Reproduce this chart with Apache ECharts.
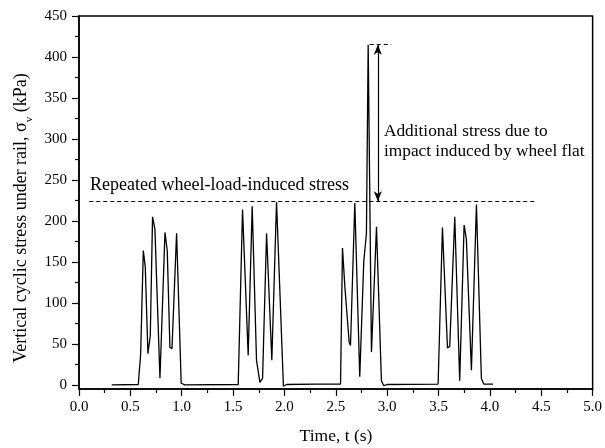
<!DOCTYPE html>
<html>
<head>
<meta charset="utf-8">
<script src="https://cdn.jsdelivr.net/npm/echarts@6/dist/echarts.min.js"></script>
<style>html,body{margin:0;padding:0;background:#fff;}#c{width:605px;height:448px;}</style>
</head>
<body>
<div id="c"></div>
<script>
// ---- data ----
var timeS = [
  0.318, 0.577, 0.600, 0.626, 0.645, 0.671, 0.694, 0.716, 0.739, 0.788, 0.837, 0.859, 0.885, 0.905, 0.950, 0.995, 1.031,
  1.550, 1.592, 1.647, 1.686, 1.728, 1.761, 1.787, 1.826, 1.877, 1.923, 1.990, 2.020, 2.300,
  2.546, 2.565, 2.588, 2.630, 2.643, 2.685, 2.733, 2.772, 2.798, 2.815, 2.832, 2.847, 2.896, 2.944, 2.967, 3.000,
  3.496, 3.538, 3.587, 3.609, 3.658, 3.706, 3.749, 3.771, 3.820, 3.869, 3.917, 3.940, 4.030
];
var stressKPa = [
  0, 0.5, 37, 164, 144, 38, 60, 205, 190, 8, 186, 164, 46, 44, 185, 2, 0,
  0.5, 214, 36, 218, 30, 3, 8, 185, 30, 223, -1.6, 0.5, 1,
  1, 167, 120, 52, 48, 222, 10, 150, 185, 415, 415, 40, 193, 5, -1, 0.5,
  1, 192, 45, 47, 205, 5, 195, 178, 18, 220, 8, 1, 1
];
var xTicks = [0, 0.5, 1.0, 1.5, 2.0, 2.5, 3.0, 3.5, 4.0, 4.5, 5.0];
var yMajorTicks = [0, 50, 100, 150, 200, 250, 300, 350, 400, 450];
var yMinorTicks = [25, 75, 125, 175, 225, 275, 325, 375, 425];
var repeatedLevel = 224;          // dashed reference line level (kPa)
var repeatedLineT = [0.1, 4.445]; // extent of that dashed line (s)
var peakLevel = 415;              // impact peak level (kPa)
var peakLineT = [2.83, 3.04];     // short dashed line at the peak (s)
var arrowT = 2.909;               // position of the double arrow (s)

var FONT = '"Liberation Serif", "Times New Roman", serif';
var seriesData = timeS.map(function (t, i) { return [t, stressKPa[i]]; });

var chart = echarts.init(document.getElementById('c'), null, {renderer: 'canvas'});
chart.setOption({
  animation: false,
  backgroundColor: '#fff',
  grid: {left: 79, right: 12, top: 16, bottom: 59, show: true, borderColor: '#000', borderWidth: 1.5, backgroundColor: 'transparent'},
  xAxis: {
    type: 'value', min: xTicks[0], max: xTicks[xTicks.length - 1], interval: 0.5,
    axisLine: {show: true, onZero: false, lineStyle: {color: '#000', width: 1.5}},
    axisTick: {show: true, inside: false, length: 7, lineStyle: {color: '#000', width: 1.2}},
    minorTick: {show: true, splitNumber: 2, length: 4, lineStyle: {color: '#000', width: 1.2}},
    splitLine: {show: false},
    axisLabel: {color: '#000', fontFamily: FONT, fontSize: 15, margin: 11, formatter: function (v) { return v.toFixed(1); }}
  },
  yAxis: [{
    type: 'value', min: -5, max: 450,
    axisLine: {show: true, onZero: false, lineStyle: {color: '#000', width: 1.5}},
    axisTick: {show: true, inside: false, length: 7, customValues: yMajorTicks, lineStyle: {color: '#000', width: 1.2}},
    splitLine: {show: false},
    axisLabel: {color: '#000', fontFamily: FONT, fontSize: 15, margin: 12, customValues: yMajorTicks}
  }, {
    type: 'value', min: -5, max: 450, position: 'left',
    axisLine: {show: false},
    axisTick: {show: true, inside: false, length: 4, customValues: yMinorTicks, lineStyle: {color: '#000', width: 1.2}},
    splitLine: {show: false},
    axisLabel: {show: false}
  }],
  series: [{
    type: 'line', xAxisIndex: 0, yAxisIndex: 0, data: seriesData,
    showSymbol: false, symbol: 'none',
    lineStyle: {color: '#000', width: 1.3},
    markLine: {
      silent: true, symbol: 'none', label: {show: false},
      lineStyle: {color: '#000', width: 1, type: [4, 3]},
      data: [
        [{coord: [repeatedLineT[0], repeatedLevel]}, {coord: [repeatedLineT[1], repeatedLevel]}],
        [{coord: [peakLineT[0], peakLevel]}, {coord: [peakLineT[1], peakLevel]}],
        [{coord: [arrowT, peakLevel], symbol: 'arrow', symbolSize: [6, 10], lineStyle: {type: 'solid', width: 1.2}},
         {coord: [arrowT, repeatedLevel], symbol: 'arrow', symbolSize: [6, 10]}]
      ]
    }
  }],
  graphic: [
    {type: 'text', left: 90, top: 176, style: {text: 'Repeated wheel-load-induced stress', font: '18px ' + FONT, fill: '#000'}},
    {type: 'text', left: 384, top: 123, style: {text: 'Additional stress due to', font: '17.3px ' + FONT, fill: '#000'}},
    {type: 'text', left: 384, top: 143, style: {text: 'impact induced by wheel flat', font: '17.3px ' + FONT, fill: '#000'}},
    {type: 'text', x: 336, y: 436, style: {text: 'Time, t (s)', font: '17.5px ' + FONT, fill: '#000', align: 'center', verticalAlign: 'middle'}},
    {type: 'text', x: 21, y: 218, rotation: Math.PI / 2,
     style: {text: 'Vertical cyclic stress under rail, σ{sub|v} (kPa)', font: '18px ' + FONT, fill: '#000', align: 'center', verticalAlign: 'middle',
             lineHeight: 20,
             rich: {sub: {fontSize: 11, fontFamily: FONT, fill: '#000', verticalAlign: 'bottom', lineHeight: 14, padding: [0, 0, -4, 0]}}}}
  ]
});
</script>
</body>
</html>
